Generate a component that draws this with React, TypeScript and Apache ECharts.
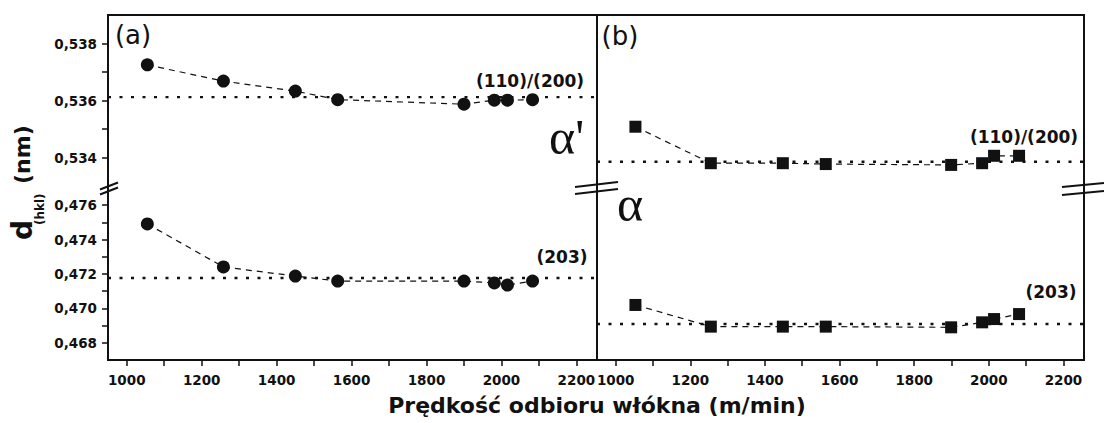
import React, { useEffect, useRef } from "react";
import * as echarts from "echarts";

// ---- data ----
const speeds = [1055, 1258, 1450, 1563, 1900, 1981, 2016, 2083];
const aUpper = [0.53725, 0.53668, 0.53633, 0.53603, 0.53587, 0.53601, 0.53601, 0.53603];
const aLower = [0.47491, 0.47241, 0.47188, 0.47159, 0.47159, 0.47148, 0.47136, 0.47159];
const speedsB = [1053, 1255, 1448, 1563, 1899, 1982, 2014, 2081];
const bUpper = [0.53508, 0.5338, 0.5338, 0.53377, 0.53374, 0.5338, 0.53406, 0.53406];
const bLower = [0.4702, 0.46894, 0.46894, 0.46894, 0.4689, 0.46919, 0.46938, 0.46967];
const aUpperRef = 0.53612;
const aLowerRef = 0.47177;
const bUpperRef = 0.53385;
const bLowerRef = 0.46909;

const xLabelValues = [1000, 1200, 1400, 1600, 1800, 2000, 2200];
const xTickValues = [1000, 1100, 1200, 1300, 1400, 1500, 1600, 1700, 1800, 1900, 2000, 2100, 2200];
const yUpperRange = [0.533, 0.539];
const yLowerRange = [0.467, 0.477];
const yTickStep = 0.001;

const X_MIN = 950;
const X_MAX = 2255;

const FONT = "DejaVu Sans";
const INK = "#111";

export default function App() {
  const ref = useRef<HTMLDivElement>(null);
  useEffect(() => {
    document.body.style.margin = "0";
    const chart = echarts.init(ref.current!, null, { renderer: "svg" });

    const grids = [
      { left: 108, top: 15, width: 489, height: 171 },
      { left: 108, top: 188, width: 489, height: 172 },
      { left: 597, top: 15, width: 487, height: 171 },
      { left: 597, top: 188, width: 487, height: 172 },
    ];

    const xAxes = grids.map((_, i) => {
      const bottom = i === 1 || i === 3;
      return {
        type: "value",
        gridIndex: i,
        min: X_MIN,
        max: X_MAX,
        show: bottom,
        axisLine: { show: bottom, lineStyle: { color: INK, width: 2 } },
        splitLine: { show: false },
        axisTick: {
          show: bottom,
          customValues: xTickValues,
          length: 6,
          lineStyle: { color: INK, width: 1.5 },
        },
        axisLabel: {
          show: bottom,
          customValues: xLabelValues,
          formatter: (v: number) => String(Math.round(v)),
          margin: 13,
          fontFamily: FONT,
          fontWeight: "bold",
          fontSize: 13.5,
          color: INK,
        },
      };
    });

    const fmt = (v: number) => {
      const m = Math.round(v * 1000);
      return m % 2 === 0 ? (m / 1000).toFixed(3).replace(".", ",") : "";
    };
    const ranges = [yUpperRange, yLowerRange, yUpperRange, yLowerRange];
    const yAxes = grids.map((_, i) => {
      const isA = i < 2;
      return {
        type: "value",
        gridIndex: i,
        position: "left",
        min: ranges[i][0],
        max: ranges[i][1],
        interval: yTickStep,
        axisLine: { show: isA, lineStyle: { color: INK, width: 2 } },
        splitLine: { show: false },
        axisTick: {
          show: isA,
          length: 6,
          lineStyle: { color: INK, width: 1.5 },
        },
        axisLabel: {
          show: isA,
          showMinLabel: false,
          showMaxLabel: false,
          formatter: fmt,
          margin: 11,
          fontFamily: FONT,
          fontWeight: "bold",
          fontSize: 13.5,
          color: INK,
        },
      };
    });

    const refSeries = (v: number, idx: number) => ({
      type: "line",
      xAxisIndex: idx,
      yAxisIndex: idx,
      data: [
        [X_MIN, v],
        [X_MAX, v],
      ],
      symbol: "none",
      silent: true,
      lineStyle: { type: [3, 8.5], width: 2.4, color: INK },
      z: 2,
    });

    const mkSeries = (xs: number[], vals: number[], idx: number, shape: string, size: number) => ({
      type: "line",
      xAxisIndex: idx,
      yAxisIndex: idx,
      data: xs.map((x, k) => [x, vals[k]]),
      symbol: shape,
      symbolSize: size,
      itemStyle: { color: INK },
      lineStyle: { color: INK, width: 1.2, type: [6, 5] },
      z: 3,
    });

    const series = [
      refSeries(aUpperRef, 0),
      refSeries(aLowerRef, 1),
      refSeries(bUpperRef, 2),
      refSeries(bLowerRef, 3),
      mkSeries(speeds, aUpper, 0, "circle", 13),
      mkSeries(speeds, aLower, 1, "circle", 13),
      mkSeries(speedsB, bUpper, 2, "rect", 12),
      mkSeries(speedsB, bLower, 3, "rect", 12),
    ];

    const lbl = (text: string, x: number, y: number, size: number, bold: boolean, extra: any = {}) => ({
      type: "text",
      x,
      y,
      style: {
        text,
        fontFamily: FONT,
        fontWeight: bold ? "bold" : "normal",
        fontSize: size,
        fill: INK,
        align: "center",
        verticalAlign: "middle",
        ...extra,
      },
      z: 10,
    });

    const brk = (x1: number, y1: number, x2: number, y2: number) => ({
      type: "line",
      shape: { x1, y1, x2, y2 },
      style: { stroke: INK, lineWidth: 2 },
      z: 10,
    });

    const graphic: any[] = [
      {
        type: "rect",
        shape: { x: 108, y: 15, width: 976, height: 345 },
        style: { fill: "none", stroke: INK, lineWidth: 2 },
        z: 9,
      },
      {
        type: "line",
        shape: { x1: 597, y1: 15, x2: 597, y2: 360 },
        style: { stroke: INK, lineWidth: 2 },
        z: 9,
      },
      // hide the tick stubs at the axis break
      {
        type: "rect",
        shape: { x: 96, y: 183, width: 11, height: 9 },
        style: { fill: "#fff" },
        z: 8,
      },
      // axis breaks
      brk(100, 189.5, 118, 182.5),
      brk(100, 194.5, 118, 187.5),
      brk(575, 187, 618, 182),
      brk(575, 194, 618, 189),
      brk(1062, 187, 1104, 183),
      brk(1062, 195, 1104, 191),
      lbl("(a)", 133, 35, 26, false),
      lbl("(b)", 620, 36, 26, false),
      lbl("(110)/(200)", 530, 81, 17, true),
      lbl("(110)/(200)", 1024, 137, 17, true),
      lbl("(203)", 562, 257, 17, true),
      lbl("(203)", 1051, 292, 17, true),
      {
        type: "text",
        x: 549,
        y: 162,
        style: {
          text: "α'",
          fontFamily: "Liberation Serif",
          fontSize: 50,
          fill: INK,
          align: "left",
          verticalAlign: "bottom",
        },
        z: 10,
      },
      {
        type: "text",
        x: 617,
        y: 229,
        style: {
          text: "α",
          fontFamily: "Liberation Serif",
          fontSize: 50,
          fill: INK,
          align: "left",
          verticalAlign: "bottom",
        },
        z: 10,
      },
      lbl("Prędkość odbioru włókna (m/min)", 597, 405, 22, true),
      {
        type: "group",
        x: 22,
        y: 240,
        rotation: Math.PI / 2,
        children: [
          lbl("d", 0, 0, 28, true, { align: "left" }),
          lbl("(hkl)", 15, 18, 12, true, { align: "left" }),
          lbl("(nm)", 56, 0, 22, true, { align: "left" }),
        ],
      },
    ];

    chart.setOption({
      animation: false,
      backgroundColor: "#fff",
      grid: grids,
      xAxis: xAxes,
      yAxis: yAxes,
      series,
      graphic,
    });
    return () => chart.dispose();
  }, []);
  return <div ref={ref} style={{ width: 1104, height: 423 }} />;
}
